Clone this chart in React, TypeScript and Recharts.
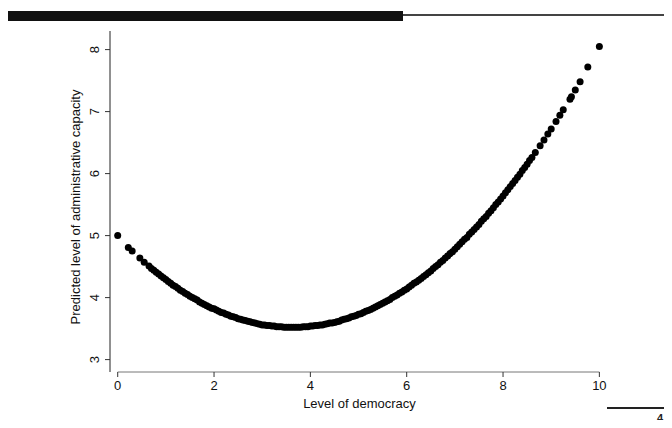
import { ScatterChart, Scatter, XAxis, YAxis, ReferenceLine, Label } from "recharts"

// democracy level (x) and predicted administrative capacity (y)
const democracy = [
  0, 0.22, 0.3, 0.46, 0.55,
  0.65, 0.7, 0.75, 0.8, 0.85, 0.9, 0.95,
  1.0, 1.05, 1.1, 1.15, 1.2, 1.25, 1.3, 1.35, 1.4, 1.45, 1.5, 1.55, 1.6, 1.65, 1.7, 1.75, 1.8, 1.85, 1.9, 1.95,
  2.0, 2.05, 2.1, 2.15, 2.2, 2.25, 2.3, 2.35, 2.4, 2.45, 2.5, 2.55, 2.6, 2.65, 2.7, 2.75, 2.8, 2.85, 2.9, 2.95,
  3.0, 3.05, 3.1, 3.15, 3.2, 3.25, 3.3, 3.35, 3.4, 3.45, 3.5, 3.55, 3.6, 3.65, 3.7, 3.75, 3.8, 3.85, 3.9, 3.95,
  4.0, 4.05, 4.1, 4.15, 4.2, 4.25, 4.3, 4.35, 4.4, 4.45, 4.5, 4.55, 4.6, 4.65, 4.7, 4.75, 4.8, 4.85, 4.9, 4.95,
  5.0, 5.05, 5.1, 5.15, 5.2, 5.25, 5.3, 5.35, 5.4, 5.45, 5.5, 5.55, 5.6, 5.65, 5.7, 5.75, 5.8, 5.85, 5.9, 5.95,
  6.0, 6.05, 6.1, 6.15, 6.2, 6.25, 6.3, 6.35, 6.4, 6.45, 6.5, 6.55, 6.6, 6.65, 6.7, 6.75, 6.8, 6.85, 6.9, 6.95,
  7.0, 7.05, 7.1, 7.15, 7.2, 7.25, 7.3, 7.35, 7.4, 7.45, 7.5, 7.55, 7.6, 7.65, 7.7, 7.75, 7.8, 7.85, 7.9, 7.95,
  8.0, 8.05, 8.1, 8.15, 8.2, 8.25, 8.3, 8.35, 8.4, 8.45, 8.5, 8.55,
  8.6, 8.67, 8.77, 8.85, 8.93, 9.0, 9.1, 9.18, 9.25, 9.39, 9.42, 9.5, 9.6, 9.76, 10.0,
]
const predicted = [
  5.0, 4.81, 4.75, 4.64, 4.57,
  4.51, 4.47, 4.44, 4.41, 4.38, 4.35, 4.32,
  4.29, 4.26, 4.23, 4.2, 4.18, 4.15, 4.12, 4.1, 4.07, 4.05, 4.02, 4.0, 3.98, 3.96, 3.93, 3.91, 3.89, 3.87, 3.85, 3.83,
  3.82, 3.8, 3.78, 3.76, 3.75, 3.73, 3.72, 3.7, 3.69, 3.68, 3.66, 3.65, 3.64, 3.63, 3.62, 3.61, 3.6, 3.59, 3.58, 3.57,
  3.56, 3.56, 3.55, 3.55, 3.54, 3.54, 3.53, 3.53, 3.53, 3.52, 3.52, 3.52, 3.52, 3.52, 3.52, 3.52, 3.52, 3.53, 3.53, 3.53,
  3.54, 3.54, 3.55, 3.55, 3.56, 3.56, 3.57, 3.58, 3.59, 3.59, 3.6, 3.61, 3.62, 3.64, 3.65, 3.66, 3.67, 3.69, 3.7, 3.71,
  3.73, 3.74, 3.76, 3.78, 3.79, 3.81, 3.83, 3.85, 3.87, 3.89, 3.91, 3.93, 3.95, 3.97, 4.0, 4.02, 4.04, 4.07, 4.09, 4.12,
  4.14, 4.17, 4.2, 4.23, 4.25, 4.28, 4.31, 4.34, 4.37, 4.4, 4.43, 4.47, 4.5, 4.53, 4.57, 4.6, 4.64, 4.67, 4.71, 4.74,
  4.78, 4.82, 4.86, 4.9, 4.94, 4.97, 5.02, 5.06, 5.1, 5.14, 5.18, 5.23, 5.27, 5.31, 5.36, 5.4, 5.45, 5.5, 5.54, 5.59,
  5.64, 5.69, 5.74, 5.79, 5.84, 5.89, 5.94, 5.99, 6.05, 6.1, 6.15, 6.21,
  6.26, 6.34, 6.45, 6.54, 6.64, 6.72, 6.84, 6.94, 7.03, 7.2, 7.24, 7.35, 7.48, 7.72, 8.05,
]
const xTicks = [0, 2, 4, 6, 8, 10]
const yTicks = [3, 4, 5, 6, 7, 8]

const data = democracy.map((d, i) => ({ democracy: d, capacity: predicted[i] }))

const font = "'Liberation Sans', Arial, sans-serif"

function YTick(props: any) {
  const { x, y, payload } = props
  const tx = x - 4
  return (
    <text x={tx} y={y} transform={`rotate(-90, ${tx}, ${y})`} textAnchor="middle" fontSize={13} fontFamily={font} fill="#111">
      {payload.value}
    </text>
  )
}

function Dot(props: any) {
  return <circle cx={props.cx} cy={props.cy} r={3.5} fill="#000" />
}

export default function App() {
  return (
    <div style={{ margin: -8, width: 672, height: 428, position: "relative", overflow: "hidden", background: "#fff" }}>
      {/* scan artefacts: header rule, footer rule, page number */}
      <div style={{ position: "absolute", left: 8, top: 11, width: 395, height: 10, background: "#111" }} />
      <div style={{ position: "absolute", left: 403, top: 14, width: 269, height: 2, background: "#444" }} />
      <div style={{ position: "absolute", left: 607, top: 407, width: 65, height: 1.5, background: "#222" }} />
      <div style={{ position: "absolute", left: 657, top: 412, fontSize: 11, fontWeight: "bold", fontFamily: font, color: "#222" }}>4</div>

      <ScatterChart width={672} height={428} margin={{ top: 31, right: 63, left: 0, bottom: 0 }}>
        <XAxis
          type="number"
          dataKey="democracy"
          domain={[-0.16, 10.2]}
          ticks={xTicks}
          allowDataOverflow
          axisLine={false}
          tickLine={{ stroke: "#333" }}
          tickSize={5}
          tickMargin={4}
          height={56}
          tick={{ fontSize: 13, fontFamily: font, fill: "#111" }}
        >
          <Label value="Level of democracy" position="insideBottom" offset={20} fontSize={13} fontFamily={font} fill="#111" />
        </XAxis>
        <YAxis
          type="number"
          dataKey="capacity"
          domain={[2.8, 8.3]}
          ticks={yTicks}
          allowDataOverflow
          axisLine={{ stroke: "#222" }}
          tickLine={{ stroke: "#333" }}
          tickSize={5}
          width={110}
          tick={<YTick />}
        >
          <Label
            content={() => (
              <text x={80} y={207} transform="rotate(-90, 80, 207)" textAnchor="middle" fontSize={13} fontFamily={font} fill="#111">
                Predicted level of administrative capacity
              </text>
            )}
          />
        </YAxis>
        <ReferenceLine
          segment={[{ x: 0, y: 2.8 }, { x: 10, y: 2.8 }]}
          stroke="#777"
          strokeWidth={1}
          ifOverflow="visible"
        />
        <Scatter data={data} shape={<Dot />} isAnimationActive={false} />
      </ScatterChart>
    </div>
  )
}
